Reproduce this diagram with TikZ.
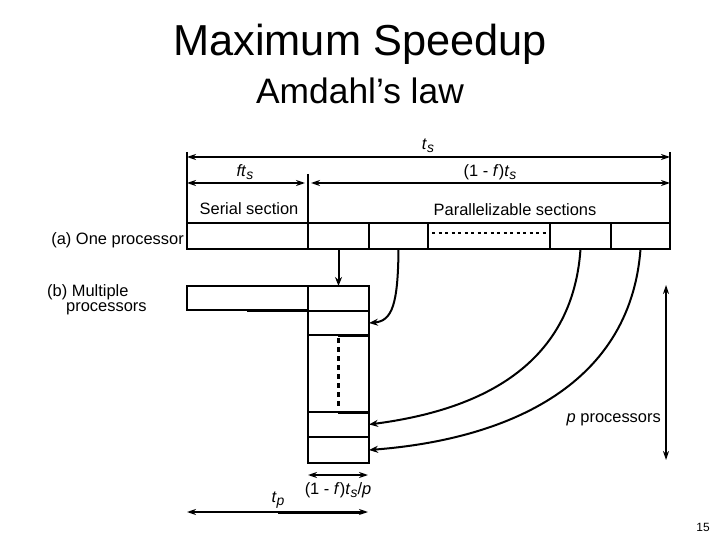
\documentclass[tikz,border=0pt]{standalone}
\usepackage{fontspec}
\setmainfont{Liberation Sans}
\usetikzlibrary{arrows.meta}
\newcommand{\myit}[1]{\textit{#1}}
\newcommand{\mysub}[1]{\raisebox{-0.4ex}{\fontsize{14}{14}\selectfont\itshape #1}}
\begin{document}
\begin{tikzpicture}[x=1bp,y=-1bp,
  cell/.style={draw, line width=2bp, inner sep=0pt, outer sep=0pt, anchor=north west},
  conn/.style={line width=2bp, -{Stealth[length=9bp,width=7bp]}},
  dim/.style={line width=2bp, {Stealth[length=9bp,width=6bp]}-{Stealth[length=9bp,width=6bp]}},
  tick/.style={line width=2bp},
  lbl/.style={font=\fontsize{16.5}{19}\selectfont, inner sep=0pt},
  dashv/.style={line width=3bp, dash pattern=on 5bp off 4bp}]
\useasboundingbox (0,0) rectangle (720,540);

% titles
\node (title) at (360,44) {\fontsize{43.5}{48}\selectfont Maximum Speedup};
\node (subtitle) at (360,91) {\fontsize{35.5}{40}\selectfont Amdahl’s law};

% row (a)
\node[cell, minimum width=121bp, minimum height=26bp] (a0) at (187,223) {};
\node[cell, minimum width=61bp, minimum height=26bp] (a1) at (308,223) {};
\node[cell, minimum width=59bp, minimum height=26bp] (a2) at (369,223) {};
\node[cell, minimum width=122bp, minimum height=26bp] (a3) at (428,223) {};
\node[cell, minimum width=61bp, minimum height=26bp] (a4) at (550,223) {};
\node[cell, minimum width=59bp, minimum height=26bp] (a5) at (611,223) {};
\draw[line width=2.5bp, dash pattern=on 3bp off 3.5bp] ([xshift=4bp]a3.west |- 0,233) coordinate (d1) -- ([xshift=-4bp]a3.east |- 0,233) coordinate (d2);

% row (b)
\node[cell, minimum width=121bp, minimum height=24bp] (b0) at (187,286) {};
\node[cell, minimum width=61bp, minimum height=25bp] (c1) at (308,286) {};
\node[cell, minimum width=61bp, minimum height=24bp] (c2) at (308,311) {};
\node[cell, minimum width=61bp, minimum height=77bp] (c3) at (308,335) {};
\node[cell, minimum width=61bp, minimum height=25bp] (c4) at (308,412) {};
\node[cell, minimum width=61bp, minimum height=26bp] (c5) at (308,437) {};
\draw[line width=3bp] (247,310) -- (308,310);
\draw[line width=3bp] (338,335) -- (369,335);
\draw[line width=3bp] (338,412) -- (369,412);
\draw[dashv] (338,338) -- (338,410);

% top dimension lines
\coordinate (tl) at (187,152); \coordinate (tr) at (670,152); \coordinate (tm) at (308,174);
\draw[tick] (tl) -- (tl |- a0.north);
\draw[tick] (tr) -- (tr |- a5.north);
\draw[tick] (tm) -- (tm |- a0.north);
\coordinate (ts1) at (187,157); \coordinate (ts2) at (670,157);
\draw[dim] (ts1) -- (ts2);
\coordinate (f1) at (187,183); \coordinate (f2) at (305,183);
\coordinate (g1) at (311,183); \coordinate (g2) at (670,183);
\draw[dim] (f1) -- (f2);
\draw[dim] (g1) -- (g2);

\node[lbl] (lts) at (428,146) {\myit{t}\mysub{s}};
\node[lbl] (lfts) at (245,172) {\myit{ft}\mysub{s}};
\node[lbl] (l1f) at (490,172) {(1 - \myit{f})\myit{t}\mysub{s}};
\node[lbl] (lser) at (249,209) {Serial section};
\node[lbl] (lpar) at (515,210) {Parallelizable sections};
\node[lbl, anchor=east] (la) at (184,240) {(a) One processor};
\node[lbl, anchor=north west, align=left, font=\fontsize{16.5}{15}\selectfont] (lb) at (47,284) {(b) Multiple\\\hspace*{19bp}processors};

% connectors
\draw[conn] (a1.south) -- (c1.north);
\draw[conn] (a2.south) .. controls (398,305) and (392,321) .. (c2.east);
\draw[conn] (a4.south) .. controls (572,375) and (465,412) .. (c4.east);
\draw[conn] (a5.south) .. controls (630,390) and (500,440) .. (c5.east);

% p processors
\coordinate (pt) at (666,285); \coordinate (pb) at (666,460);
\draw[dim] (pt) -- (pb);
\node[lbl, anchor=east] (lp) at (661,420) {\myit{p} processors};

% bottom dimensions
\coordinate (q1) at (308,475); \coordinate (q2) at (368,475);
\draw[dim, line width=2.5bp] (q1) -- (q2);
\node[lbl] (lq) at (338,490) {(1 - \myit{f})\myit{t}\mysub{s}/\myit{p}};
\coordinate (r1) at (187,512); \coordinate (r2) at (368,512);
\coordinate (rm) at (278,512);
\draw[dim] (r1) -- (r2);
\draw[line width=3bp] (rm) -- ([xshift=-6bp]r2);
\node[lbl] (ltp) at (278,500) {\myit{t}\mysub{p}};

\node[font=\fontsize{12}{14}\selectfont, inner sep=0pt] (pg) at (703,527) {15};
\end{tikzpicture}
\end{document}
